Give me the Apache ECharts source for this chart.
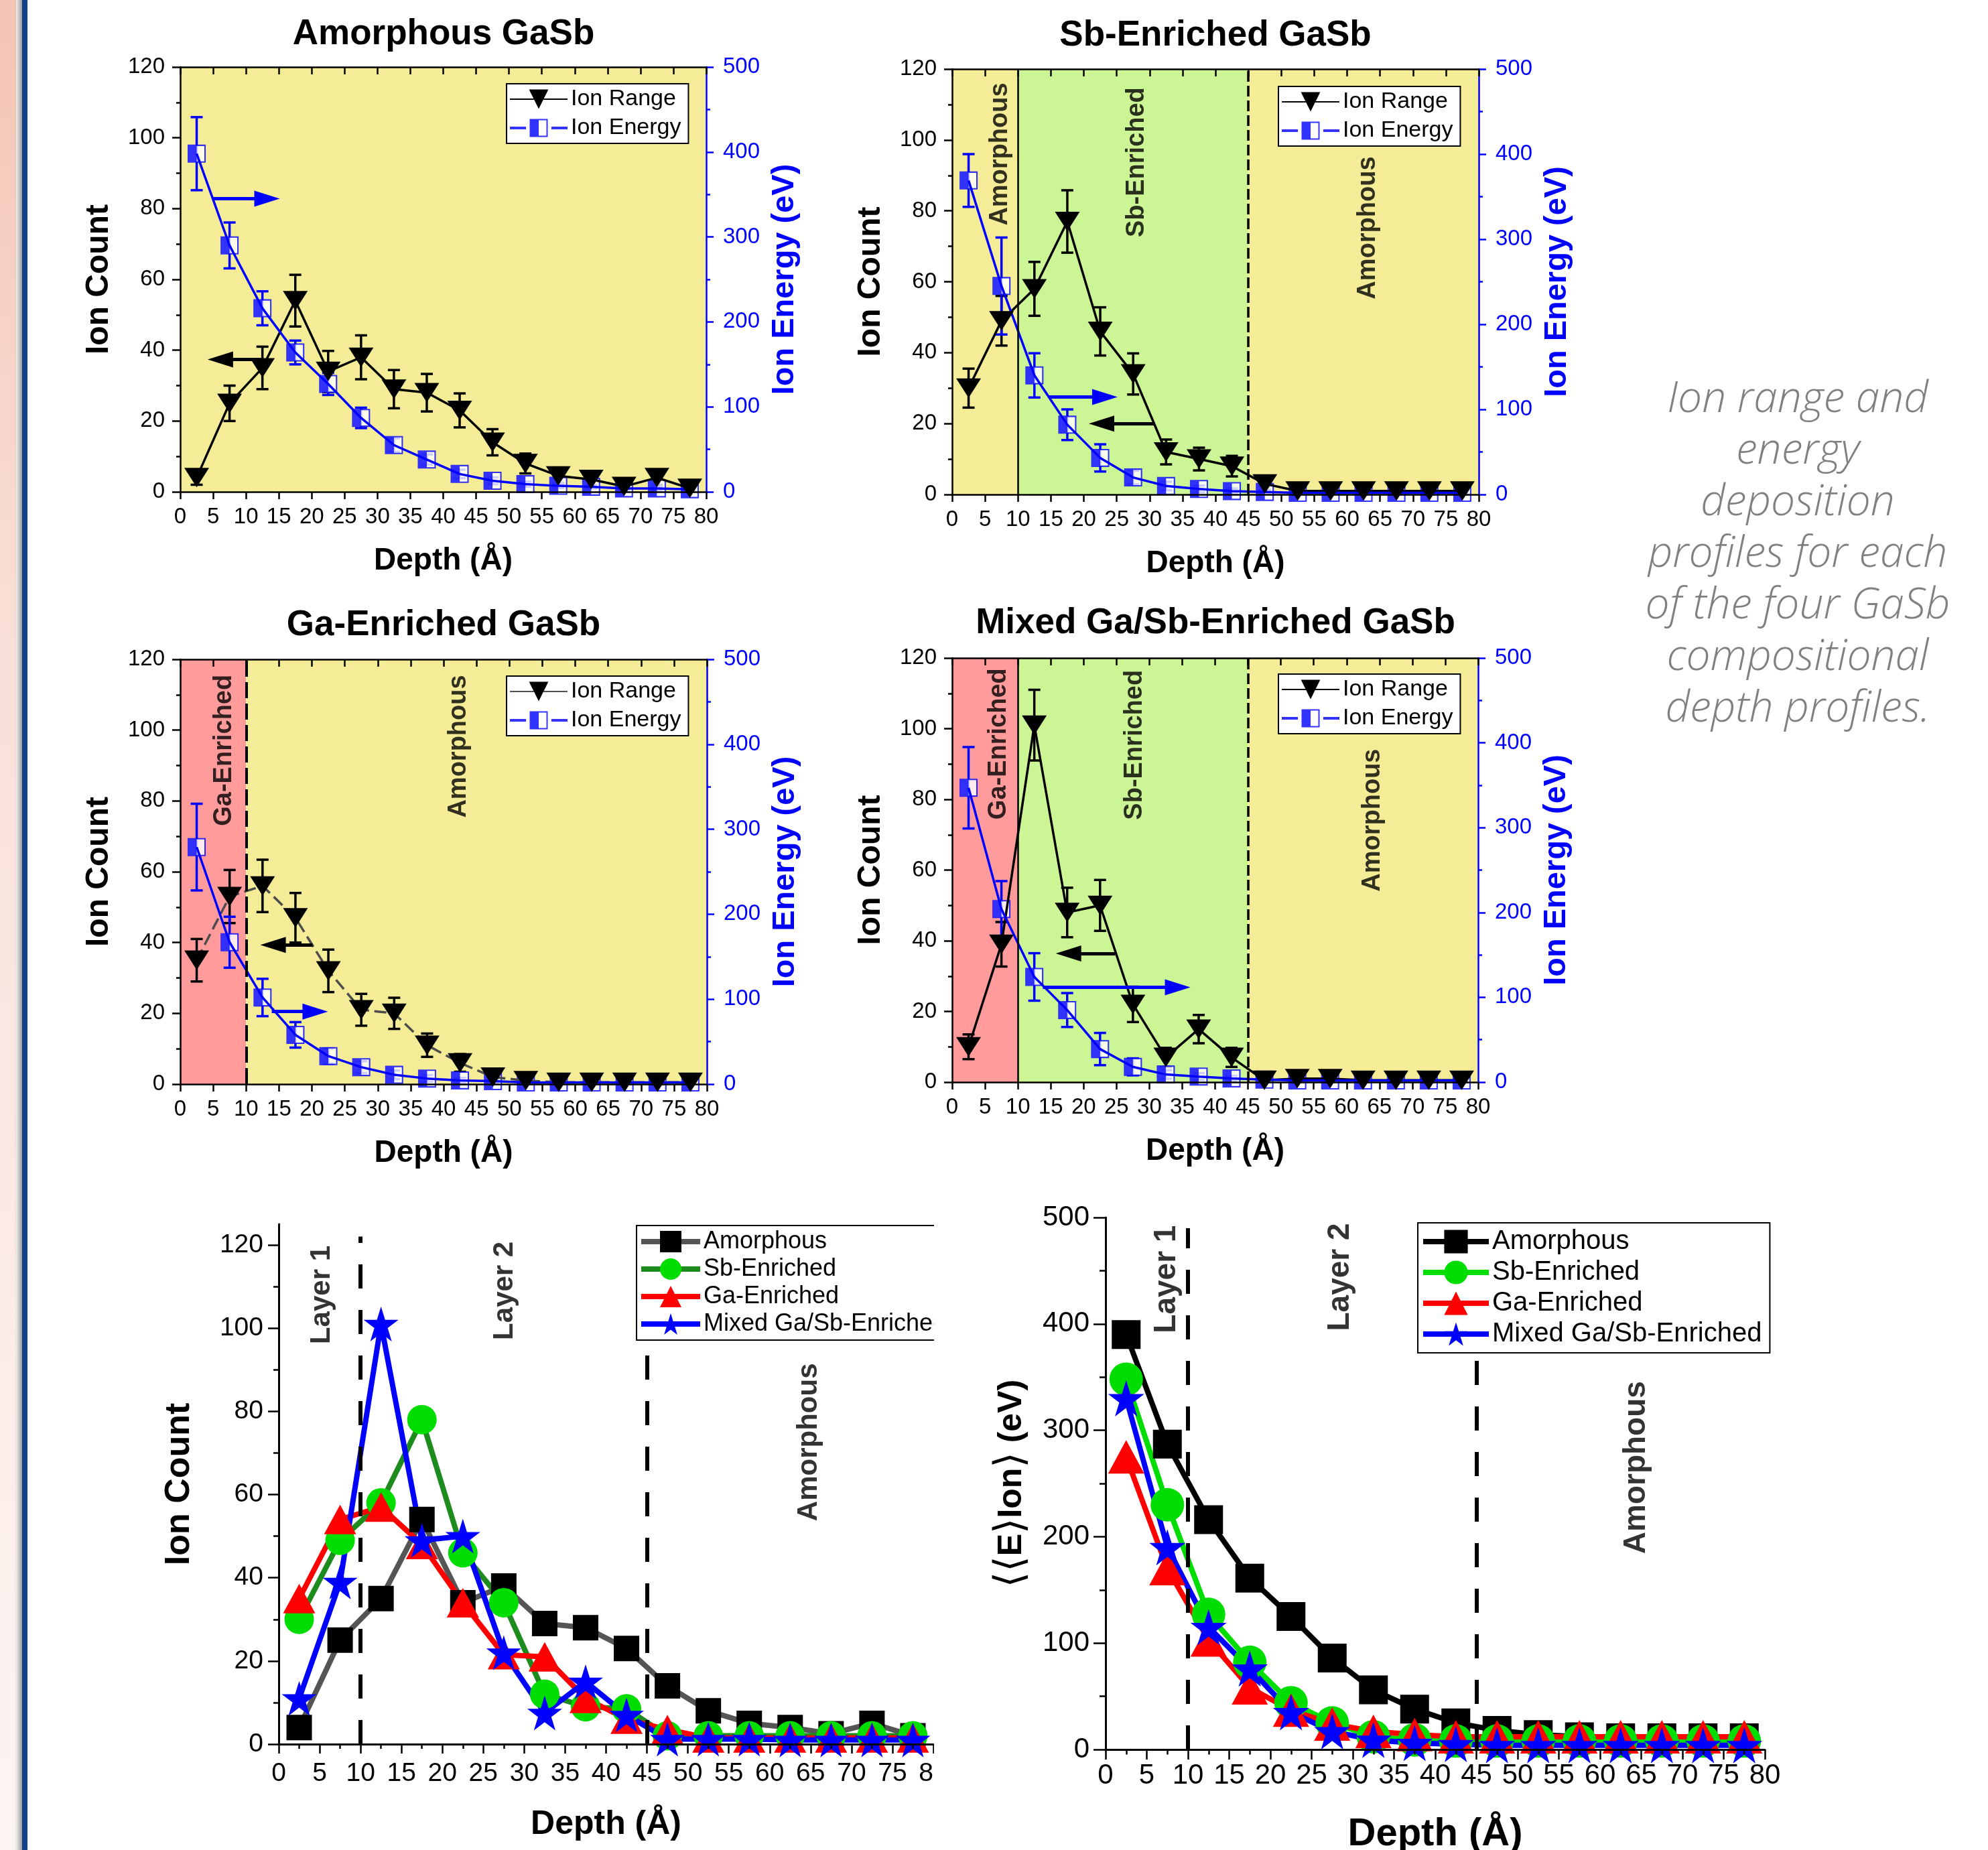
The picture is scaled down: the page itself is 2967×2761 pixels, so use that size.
<!DOCTYPE html>
<html><head><meta charset="utf-8">
<script src="https://cdn.jsdelivr.net/npm/echarts@6/dist/echarts.min.js"></script>
<style>html,body{margin:0;padding:0;background:#fff}#c{width:2967px;height:2761px}</style>
</head><body><div id="c"></div>
<script>
// ---------------- DATA ----------------
const depth = [2.5,7.5,12.5,17.5,22.5,27.5,32.5,37.5,42.5,47.5,52.5,57.5,62.5,67.5,72.5,77.5];

// Amorphous GaSb
const amorRange     = [4,25,35,54,34,38,29,28,23,14,8,4.5,3.5,1.5,4,1];
const amorRangeErr  = [2,5,6,7.3,5.8,6.2,5.4,5.3,4.8,3.7,2.8,2,1.8,1.2,2,1];
const amorEnergy    = [398,290,216,164,127,87,55,38,21,13,9,7,6,4,4,3];
const amorEnergyErr = [43,27,20,14,13,12,8,6,5,4,3,2.5,2,2,2,2];
// Sb-Enriched GaSb
const sbRange       = [30,49,58,77,46,34,12,10,8,3,1,1,1,1,1,1];
const sbRangeErr    = [5.5,7,7.6,8.8,6.8,5.8,3.5,3.2,2.9,1.7,1,1,1,1,1,1];
const sbEnergy      = [369,245,140,82,43,20,10,6.5,4,3,2,2,2,2,2,2];
const sbEnergyErr   = [31,57,26,18,16,8,5,4,3,2,1,1,1,1,1,1];
// Ga-Enriched GaSb
const gaRange       = [35,53,56,47,32,21,20,11,6,2,1,0.5,0.5,0.5,0.5,0.5];
const gaRangeErr    = [6,7.5,7.4,7,6,4.5,4.4,3.3,2.5,1.4,1,0.7,0.7,0.7,0.7,0.7];
const gaEnergy      = [279,167,102,58,33,20,11,6.6,4.4,3.5,2,2,2,2,2,2];
const gaEnergyErr   = [51,30,22,15,9,7,5,4,3,2,1,1,1,1,1,1];
// Mixed Ga/Sb-Enriched GaSb
const mixRange      = [10,39,101,48,50,22,7,15,7,0.5,1,1,0.5,0.5,0.5,0.5];
const mixRangeErr   = [3.5,6.3,10,7,7.2,5,2.7,4,2.7,0.7,1,1,0.7,0.7,0.7,0.7];
const mixEnergy     = [347,204,124,85,39,18,9,6.6,4.4,3,2,2,2,2,2,2];
const mixEnergyErr  = [48,33,28,20,19,10,5,4,3,2,1,1,1,1,1,1];

// Comparison: ion count
const cmpCountAmor  = [4,25,35,54,34,38,29,28,23,14,8,5,4,2.5,5,2];
const cmpCountSb    = [30,49,58,78,46,34,12,9,8.5,2,2,2,2,2,2,2];
const cmpCountGa    = [35,54,57,48,34,21.5,21,11,6,3.5,1.5,1.5,1.5,1.5,1.5,1.5];
const cmpCountMix   = [11,39,101,49,50,22,7.5,15,7,1.2,1.2,1.2,1,1,1,1];
// Comparison: mean ion energy
const cmpEnergyAmor = [390,287,216,161,125,86,56,38,25,18,14,12,11,11,11,11];
const cmpEnergySb   = [348,230,127,82,44,25,12,9,8,8,8,8,8,8,8,8];
const cmpEnergyGa   = [275,170,103,58,37,24,17,14,12,12,12,12,12,12,12,12];
const cmpEnergyMix  = [330,190,115,76,35,17,9,6,5,4,4,4,4,4,4,4];

// Layer boundaries (Å)
const sbBounds  = [10,45];
const gaBounds  = [10];
const mixBounds = [10,45];
const cmpBounds = [10,45];

// Tick labels
const countTicksCmp = [0,20,40,60,80,100,120];

const captionLines = ['Ion range and','energy','deposition','profiles for each','of the four GaSb','compositional','depth profiles.'];

// ---------------- STYLE ----------------
const FONT = '"Liberation Sans", Arial, Helvetica, sans-serif';
const BLUE = '#0000FF';
const YELLOW = '#F5EC97', GREEN = '#CCF595', RED = '#FF9B9B';
const KIND_COLOR = {A: YELLOW, S: GREEN, G: RED};
const RANGE_SYM = 'path://M0,0L10,0L5,10Z';
const ENERGY_SYM = 'path://M0,0L26,0L26,26L0,26Z M13,2L13,24L24,24L24,2Z';
const ENERGY_ICON = 'path://M0,0L0.01,0L0.01,0.01Z M0,16L24,16L24,20L0,20Z M29.5,4.5L56.5,4.5L56.5,31.5L29.5,31.5Z M43,6.5L43,29.5L54.5,29.5L54.5,6.5Z M62,16L86,16L86,20L62,20Z M86,36L85.99,36L85.99,35.99Z';
const STAR = 'path://M50,0L61.2,34.5L97.6,34.5L68.2,55.9L79.4,90.5L50,69.1L20.6,90.5L31.8,55.9L2.4,34.5L38.8,34.5Z';
const HEAD = 'path://M5,0L10,10L0,10Z';

const grids = [
  {left:269, top:100, width:785, height:634},
  {left:1421, top:103, width:786, height:635},
  {left:269, top:984, width:786, height:634},
  {left:1421, top:982, width:785, height:633},
  {left:416, top:1827, width:977, height:776},
  {left:1650, top:1817, width:984, height:794}
];

const xAxes = [], yAxes = [], series = [], legends = [];

function pts(v){ return depth.map((d,i)=>[d, v[i]]); }
function errData(v,e){ return depth.map((d,i)=>[d, Math.max(0, v[i]-e[i]), v[i]+e[i]]); }
function errRender(cap, color, w){
  return function(params, api){
    const x = api.value(0);
    const lo = api.coord([x, api.value(1)]);
    const hi = api.coord([x, api.value(2)]);
    const st = {stroke: color, lineWidth: w};
    return {type:'group', children:[
      {type:'line', shape:{x1:lo[0],y1:lo[1],x2:hi[0],y2:hi[1]}, style:st},
      {type:'line', shape:{x1:lo[0]-cap,y1:lo[1],x2:lo[0]+cap,y2:lo[1]}, style:st},
      {type:'line', shape:{x1:hi[0]-cap,y1:hi[1],x2:hi[0]+cap,y2:hi[1]}, style:st}
    ]};
  };
}
function arrow(from, to, color){
  return {silent:true, animation:false, label:{show:false}, symbol:'none',
    lineStyle:{color:color, width:5, type:'solid'},
    data:[[{coord:from, symbol:'none'}, {coord:to, symbol:HEAD, symbolSize:[24,38]}]]};
}

function addTopPanel(g, p){
  const xb = xAxes.length;
  xAxes.push({gridIndex:g, type:'value', min:0, max:80, interval:5, position:'bottom', z:10,
    axisLine:{show:true, onZero:false, lineStyle:{color:'#000', width:2.5}},
    axisTick:{show:true, length:11, lineStyle:{color:'#000', width:2.5}},
    axisLabel:{fontSize:33, color:'#000', fontFamily:FONT, margin:21},
    splitLine:{show:false},
    name:'Depth (Å)', nameLocation:'middle', nameGap:80,
    nameTextStyle:{fontSize:46, fontWeight:'bold', color:'#000', fontFamily:FONT}});
  xAxes.push({gridIndex:g, type:'value', min:0, max:80, interval:5, position:'top', z:10,
    axisLine:{show:true, onZero:false, lineStyle:{color:'#000', width:2.5}},
    axisTick:{show:true, inside:true, length:11, lineStyle:{color:'#000', width:2.5}},
    axisLabel:{show:false}, splitLine:{show:false}});
  const yl = yAxes.length;
  yAxes.push({gridIndex:g, type:'value', min:0, max:120, interval:20, position:'left', z:10,
    axisLine:{show:true, onZero:false, lineStyle:{color:'#000', width:2.5}},
    axisTick:{show:true, length:12, lineStyle:{color:'#000', width:2.5}},
    minorTick:{show:true, splitNumber:2, length:6, lineStyle:{color:'#000', width:2.5}},
    axisLabel:{fontSize:33, color:'#000', fontFamily:FONT, margin:23},
    splitLine:{show:false}, minorSplitLine:{show:false},
    name:'Ion Count', nameLocation:'middle', nameRotate:90, nameGap:97,
    nameTextStyle:{fontSize:48, fontWeight:'bold', color:'#000', fontFamily:FONT}});
  const yr = yAxes.length;
  yAxes.push({gridIndex:g, type:'value', min:0, max:500, interval:100, position:'right', z:10,
    axisLine:{show:true, onZero:false, lineStyle:{color:BLUE, width:2.5}},
    axisTick:{show:true, length:11, lineStyle:{color:BLUE, width:2.5}},
    minorTick:{show:true, splitNumber:2, length:6, lineStyle:{color:BLUE, width:2.5}},
    axisLabel:{fontSize:33, color:BLUE, fontFamily:FONT, margin:25},
    splitLine:{show:false}, minorSplitLine:{show:false},
    name:'Ion Energy (eV)', nameLocation:'middle', nameRotate:90, nameGap:94,
    nameTextStyle:{fontSize:47, fontWeight:'bold', color:BLUE, fontFamily:FONT}});

  const edges = [0].concat(p.bounds, [80]);
  const areas = p.kinds.map((k,i)=>[{xAxis:edges[i], itemStyle:{color:KIND_COLOR[k], opacity:1}}, {xAxis:edges[i+1]}]);
  series.push({type:'scatter', xAxisIndex:xb, yAxisIndex:yl, silent:true, animation:false,
    symbolSize:1, itemStyle:{color:'transparent'},
    data:p.labels.map(l=>[l[0], l[1], l[2]]),
    label:{show:true, position:'inside', rotate:90, formatter:q=>q.value[2], fontSize:38, fontWeight:'bold', color:'#000', fontFamily:FONT},
    markArea:{silent:true, animation:false, data:areas},
    markLine:{silent:true, animation:false, symbol:'none', label:{show:false},
      data:p.lines.map(l=>({xAxis:l[0], lineStyle:{color:'#000', width:l[1], type:l[2]}}))}
  });
  series.push({type:'custom', xAxisIndex:xb, yAxisIndex:yl, silent:true, animation:false,
    renderItem:errRender(9,'#000',3.5), data:errData(p.range, p.rangeErr), encode:{x:0, y:[1,2]}});
  series.push({type:'line', name:'Ion Range', xAxisIndex:xb, yAxisIndex:yl, silent:true, animation:false,
    data:pts(p.range), symbol:RANGE_SYM, symbolSize:[37,29], showAllSymbol:true,
    itemStyle:{color:'#000'}, lineStyle:{color:p.rangeColor, width:3.5, type:p.rangeType},
    markLine:arrow(p.rangeArrow[0], p.rangeArrow[1], '#000')});
  series.push({type:'custom', xAxisIndex:xb, yAxisIndex:yr, silent:true, animation:false,
    renderItem:errRender(9,BLUE,3.5), data:errData(p.energy, p.energyErr), encode:{x:0, y:[1,2]}});
  series.push({type:'line', name:'Ion Energy line', xAxisIndex:xb, yAxisIndex:yr, silent:true, animation:false,
    data:pts(p.energy), symbol:'none', lineStyle:{color:BLUE, width:3.5},
    markLine:arrow(p.energyArrow[0], p.energyArrow[1], BLUE)});
  series.push({type:'scatter', xAxisIndex:xb, yAxisIndex:yr, silent:true, animation:false,
    data:pts(p.energy), symbol:'rect', symbolSize:25, itemStyle:{color:'#fff'}});
  series.push({type:'scatter', name:'Ion Energy', xAxisIndex:xb, yAxisIndex:yr, silent:true, animation:false,
    data:pts(p.energy), symbol:ENERGY_SYM, symbolSize:27, itemStyle:{color:BLUE}});

  legends.push({left:p.legend[0], top:p.legend[1], orient:'vertical', align:'left', z:20,
    backgroundColor:'#fff', borderColor:'#000', borderWidth:2, borderRadius:0,
    padding:[6,11,5,4], itemWidth:86, itemHeight:36, itemGap:8, selectedMode:false,
    textStyle:{fontSize:34, color:'#000', fontFamily:FONT},
    data:[{name:'Ion Range', lineStyle:{color:p.rangeColor, type:'solid'}}, {name:'Ion Energy', icon:ENERGY_ICON}]});
}

addTopPanel(0, {range:amorRange, rangeErr:amorRangeErr, energy:amorEnergy, energyErr:amorEnergyErr,
  bounds:[], kinds:['A'], lines:[], labels:[],
  rangeArrow:[[12.3,37.4],[6.1,37.4]], energyArrow:[[4.9,345],[13.2,345]],
  rangeColor:'#000', rangeType:'solid', legend:[756,125]});
addTopPanel(1, {range:sbRange, rangeErr:sbRangeErr, energy:sbEnergy, energyErr:sbEnergyErr,
  bounds:sbBounds, kinds:['A','S','A'], lines:[[sbBounds[0],2.5,'solid'],[sbBounds[1],3.5,[16,6]]],
  labels:[[7.3,96,'Amorphous'],[28,93.7,'Sb-Enriched'],[63.2,75.2,'Amorphous']],
  rangeArrow:[[30.8,20],[22.7,20]], energyArrow:[[14.7,114.5],[23.2,114.5]],
  rangeColor:'#000', rangeType:'solid', legend:[1908,129]});
addTopPanel(2, {range:gaRange, rangeErr:gaRangeErr, energy:gaEnergy, energyErr:gaEnergyErr,
  bounds:gaBounds, kinds:['G','A'], lines:[[gaBounds[0],4,[24,8]]],
  labels:[[6.7,94.3,'Ga-Enriched'],[42.3,95.4,'Amorphous']],
  rangeArrow:[[20.1,39.3],[14.1,39.3]], energyArrow:[[13.9,85.4],[20.5,85.4]],
  rangeColor:'#4d4d4d', rangeType:[18,8], legend:[756,1009]});
addTopPanel(3, {range:mixRange, rangeErr:mixRangeErr, energy:mixEnergy, energyErr:mixEnergyErr,
  bounds:mixBounds, kinds:['G','S','A'], lines:[[mixBounds[0],2.5,'solid'],[mixBounds[1],3.5,[16,6]]],
  labels:[[7.1,95.7,'Ga-Enriched'],[27.8,95.4,'Sb-Enriched'],[63.9,74.1,'Amorphous']],
  rangeArrow:[[24.8,36.4],[17.7,36.4]], energyArrow:[[13.8,111.7],[34.3,111.7]],
  rangeColor:'#000', rangeType:'solid', legend:[1908,1006]});

// ---------- comparison panels ----------
function addCmpPanel(g, c){
  const xb = xAxes.length;
  xAxes.push({gridIndex:g, type:'value', min:0, max:80, interval:5, position:'bottom', z:10,
    axisLine:{show:true, onZero:false, lineStyle:{color:'#000', width:3}},
    axisTick:{show:true, length:c.tickLen, lineStyle:{color:'#000', width:2.5}},
    minorTick:{show:true, splitNumber:2, length:c.tickLen/2, lineStyle:{color:'#000', width:2.5}},
    axisLabel:{fontSize:c.tickFont, color:'#000', fontFamily:FONT, margin:c.xMargin},
    splitLine:{show:false}, minorSplitLine:{show:false},
    name:'Depth (Å)', nameLocation:'middle', nameGap:c.xNameGap,
    nameTextStyle:{fontSize:c.xNameFont, fontWeight:'bold', color:'#000', fontFamily:FONT}});
  const yl = yAxes.length;
  const yAx = {gridIndex:g, type:'value', min:0, max:c.ymax, interval:c.yint, position:'left', z:10,
    axisLine:{show:true, onZero:false, lineStyle:{color:'#000', width:3}},
    axisTick:{show:true, length:c.ytickLen, lineStyle:{color:'#000', width:2.5}},
    minorTick:{show:true, splitNumber:2, length:c.ytickLen/2, lineStyle:{color:'#000', width:2.5}},
    axisLabel:{fontSize:c.tickFont, color:'#000', fontFamily:FONT, margin:c.yMargin},
    splitLine:{show:false}, minorSplitLine:{show:false},
    name:c.yName, nameLocation:'middle', nameRotate:90, nameGap:c.yNameGap,
    nameTextStyle:{fontSize:c.yNameFont, fontWeight:'bold', color:'#000', fontFamily:FONT,
      rich:{b:{fontSize:c.yNameFont*1.2, fontWeight:'normal', color:'#000', fontFamily:'"DejaVu Sans", sans-serif'},
            t:{fontSize:c.yNameFont, fontWeight:'bold', color:'#000', fontFamily:FONT}}}};
  if (c.yTicks){ yAx.axisLabel.customValues = c.yTicks; yAx.axisTick.customValues = c.yTicks; }
  yAxes.push(yAx);

  series.push({type:'scatter', xAxisIndex:xb, yAxisIndex:yl, silent:true, animation:false,
    symbolSize:1, itemStyle:{color:'transparent'},
    data:c.labels.map(l=>[l[0], l[1], l[2]]),
    label:{show:true, position:'inside', rotate:90, formatter:q=>q.value[2], fontSize:c.labelFont, fontWeight:'bold', color:'#000', fontFamily:FONT},
    markLine:{silent:true, animation:false, symbol:'none', label:{show:false},
      lineStyle:{color:'#000', width:6, type:[36,32]},
      data:c.bounds.map(b=>[{coord:[b,0]},{coord:[b,c.lineTop]}])}
  });
  const defs = [
    ['Amorphous', c.amor, 'rect', c.sq, '#000', c.amorLine],
    ['Sb-Enriched', c.sb, 'circle', c.ci, '#00DD00', c.sbLine],
    ['Ga-Enriched', c.ga, 'triangle', c.tri, '#FF0000', '#FF0000'],
    ['Mixed Ga/Sb-Enriched', c.mix, STAR, c.st, BLUE, BLUE]
  ];
  defs.forEach(d=>{
    series.push({type:'line', name:d[0], xAxisIndex:xb, yAxisIndex:yl, silent:true, animation:false,
      data:pts(d[1]), symbol:d[2], symbolSize:d[3], showAllSymbol:true,
      itemStyle:{color:d[4]}, lineStyle:{color:d[5], width:c.lw}});
  });
  legends.push({left:c.legend[0], top:c.legend[1], orient:'vertical', align:'left', z:20,
    backgroundColor:'#fff', borderColor:'#000', borderWidth:2, borderRadius:0,
    padding:c.legPad, itemWidth:c.legW, itemHeight:c.legH, itemGap:c.legGap, selectedMode:false,
    textStyle:{fontSize:c.legFont, color:'#000', fontFamily:FONT},
    data:[{name:'Amorphous', lineStyle:{color:c.amorLine, width:c.lw}}, {name:'Sb-Enriched', lineStyle:{color:c.sbLine, width:c.lw}},
          {name:'Ga-Enriched', lineStyle:{width:c.lw}}, {name:'Mixed Ga/Sb-Enriched', lineStyle:{width:c.lw}}]});
}

addCmpPanel(4, {amor:cmpCountAmor, sb:cmpCountSb, ga:cmpCountGa, mix:cmpCountMix,
  ymax:125, yint:20, yTicks:countTicksCmp, yName:'Ion Count', bounds:cmpBounds, lineTop:122,
  labels:[[5.3,108,'Layer 1'],[27.6,109,'Layer 2'],[64.8,72.6,'Amorphous']],
  tickFont:39, tickLen:14, ytickLen:16, xMargin:25, yMargin:23, xNameGap:95, xNameFont:50, yNameGap:122, yNameFont:52, labelFont:42,
  sq:38, ci:44, tri:[48,44], st:52, lw:8, amorLine:'#555555', sbLine:'#1E8B1E',
  legend:[950,1829], legPad:[6,10,6,3], legW:88, legH:40, legGap:5, legFont:36});
addCmpPanel(5, {amor:cmpEnergyAmor, sb:cmpEnergySb, ga:cmpEnergyGa, mix:cmpEnergyMix,
  ymax:500, yint:100, yTicks:null, yName:'{b|\u27E8\u27E8}{t|E}{b|\u27E9}{t|Ion}{b|\u27E9}{t| (eV)}', bounds:cmpBounds, lineTop:490,
  labels:[[7.4,442,'Layer 1'],[28.5,444,'Layer 2'],[64.4,265,'Amorphous']],
  tickFont:42, tickLen:15, ytickLen:18, xMargin:18, yMargin:24, xNameGap:98, xNameFont:58, yNameGap:110, yNameFont:50, labelFont:46,
  sq:43, ci:50, tri:[54,50], st:54, lw:8, amorLine:'#000000', sbLine:'#00DD00',
  legend:[2116,1825], legPad:[8,12,8,4], legW:98, legH:44, legGap:6, legFont:40});

// ---------------- graphics ----------------
const titleStyle = {fontSize:53, fontWeight:'bold', fontFamily:FONT, fill:'#000', align:'center', verticalAlign:'middle'};
const graphic = [
  {type:'rect', silent:true, z:0, shape:{x:0,y:0,width:24,height:2761},
    style:{fill:new echarts.graphic.LinearGradient(0,0,0,1,[{offset:0,color:'#f4c4b4'},{offset:0.35,color:'#f9e0d8'},{offset:1,color:'#fdf5f3'}])}},
  {type:'rect', silent:true, z:0, shape:{x:22,y:0,width:11,height:2761},
    style:{fill:new echarts.graphic.LinearGradient(0,0,1,0,[{offset:0,color:'rgba(160,160,160,0)'},{offset:1,color:'rgba(140,140,140,0.9)'}])}},
  {type:'rect', silent:true, z:0, shape:{x:33,y:0,width:8,height:2761}, style:{fill:'#12428A'}},
  {type:'text', silent:true, x:662, y:51, style:Object.assign({text:'Amorphous GaSb'}, titleStyle)},
  {type:'text', silent:true, x:1814, y:53, style:Object.assign({text:'Sb-Enriched GaSb'}, titleStyle)},
  {type:'text', silent:true, x:662, y:933, style:Object.assign({text:'Ga-Enriched GaSb'}, titleStyle)},
  {type:'text', silent:true, x:1814, y:930, style:Object.assign({text:'Mixed Ga/Sb-Enriched GaSb'}, titleStyle)},
  {type:'text', silent:true, x:2683, y:558, style:{text:captionLines.join('\n'), fontSize:64, fontStyle:'italic', fontWeight:300,
    fontFamily:'"Open Sans", "Liberation Sans", sans-serif', fill:'#808080', align:'center', verticalAlign:'top', lineHeight:77}},
  {type:'rect', silent:true, z:100, shape:{x:1394,y:1790,width:58,height:971}, style:{fill:'#fff'}}
];

const chart = echarts.init(document.getElementById('c'), null, {renderer:'canvas', width:2967, height:2761});
chart.setOption({
  animation:false,
  backgroundColor:'#fff',
  grid:grids.map(g=>Object.assign({containLabel:false, outerBoundsMode:'none'}, g)),
  xAxis:xAxes, yAxis:yAxes, series:series, legend:legends, graphic:graphic
});
</script></body></html>
